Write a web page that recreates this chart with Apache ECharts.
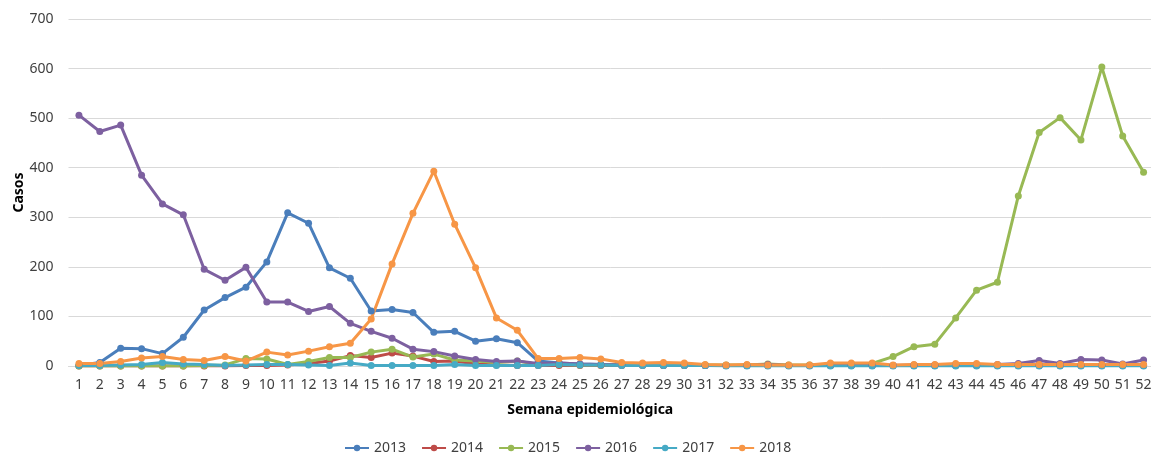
<!DOCTYPE html>
<html>
<head>
<meta charset="utf-8">
<script src="https://cdn.jsdelivr.net/npm/echarts@6/dist/echarts.min.js"></script>
<style>
html,body{margin:0;padding:0;background:#fff;}
#chart{width:1151px;height:454px;}
</style>
</head>
<body>
<div id="chart"></div>
<script>
const weeks = Array.from({length: 52}, (_, i) => String(i + 1));
const seriesNames = ['2013', '2014', '2015', '2016', '2017', '2018'];
const yTicks = [0, 100, 200, 300, 400, 500, 600, 700];

const s2013 = [1,7,36,35,25,58,113,138,159,210,309,288,198,177,111,114,108,68,70,50,55,47,10,6,4,3,2,2,1,1,1,1,1,1,1,1,1,1,1,1,1,1,1,1,1,1,1,1,1,1,1,1];
const s2014 = [0,0,0,0,0,0,0,0,1,1,2,5,10,21,17,26,20,9,10,4,2,1,1,1,1,1,1,1,1,1,1,1,1,1,1,1,1,1,1,1,1,1,1,1,1,1,1,1,1,1,1,1];
const s2015 = [0,0,0,0,0,0,1,2,15,14,3,9,17,17,28,34,18,24,12,10,7,10,3,3,2,2,2,2,3,2,2,2,2,4,2,2,3,3,5,19,39,44,97,153,169,343,471,501,456,603,464,391];
const s2016 = [506,473,486,385,327,305,195,173,199,129,129,110,120,86,70,56,34,29,20,13,9,10,5,6,4,3,2,2,2,2,1,1,1,3,1,1,1,1,1,1,2,2,3,3,3,5,11,5,13,12,4,12];
const s2017 = [1,1,2,3,7,4,3,1,2,3,3,2,1,6,1,1,1,1,3,1,1,1,1,3,2,2,1,1,1,1,1,0,0,0,0,0,0,0,0,0,0,0,0,0,0,0,0,0,0,0,0,0];
const s2018 = [5,5,9,16,19,13,11,19,10,28,22,30,39,46,95,206,308,393,286,198,97,72,15,15,17,14,7,6,7,6,3,2,3,2,2,2,6,6,6,2,3,3,5,5,3,3,3,3,3,3,3,3];

const allData = [s2013, s2014, s2015, s2016, s2017, s2018];
const colors = ['#4A7EBB', '#BE4B48', '#98B954', '#7D60A0', '#46AAC5', '#F79646'];

const FONT = 'Noto Sans';
const chart = echarts.init(document.getElementById('chart'), null, {renderer: 'canvas'});
chart.setOption({
  animation: false,
  color: colors,
  textStyle: {fontFamily: FONT},
  grid: {left: 68.5, right: -3, top: 19, bottom: 88, containLabel: false, outerBoundsMode: 'none'},
  legend: {
    left: 339,
    top: 436,
    itemWidth: 24,
    itemHeight: 8,
    itemGap: 15,
    textStyle: {fontSize: 14, color: '#404040', fontFamily: FONT},
    data: seriesNames
  },
  xAxis: {
    type: 'category',
    data: weeks,
    boundaryGap: true,
    name: 'Semana epidemiológica',
    nameLocation: 'middle',
    nameGap: 37,
    nameMoveOverlap: false,
    nameTextStyle: {fontSize: 14, fontWeight: 'bold', color: '#000', fontFamily: FONT, padding: [0, 42, 0, 0]},
    axisLine: {show: true, lineStyle: {color: '#d9d9d9', width: 1}},
    axisTick: {show: false},
    axisLabel: {fontSize: 14, color: '#404040', margin: 12, interval: 0, fontFamily: FONT}
  },
  yAxis: {
    type: 'value',
    min: yTicks[0],
    max: yTicks[yTicks.length - 1],
    interval: 100,
    name: 'Casos',
    nameLocation: 'middle',
    nameGap: 42,
    nameMoveOverlap: false,
    nameTextStyle: {fontSize: 14, fontWeight: 'bold', color: '#000', fontFamily: FONT},
    axisLine: {show: false},
    axisTick: {show: false},
    axisLabel: {fontSize: 14, color: '#404040', margin: 15, fontFamily: FONT},
    splitLine: {lineStyle: {color: '#d9d9d9', width: 1}}
  },
  series: seriesNames.map((n, i) => ({
    name: n,
    type: 'line',
    data: allData[i],
    symbol: 'circle',
    symbolSize: 7,
    lineStyle: {width: 3, color: colors[i]},
    itemStyle: {color: colors[i]},
    emphasis: {disabled: true}
  }))
});
</script>
</body>
</html>
